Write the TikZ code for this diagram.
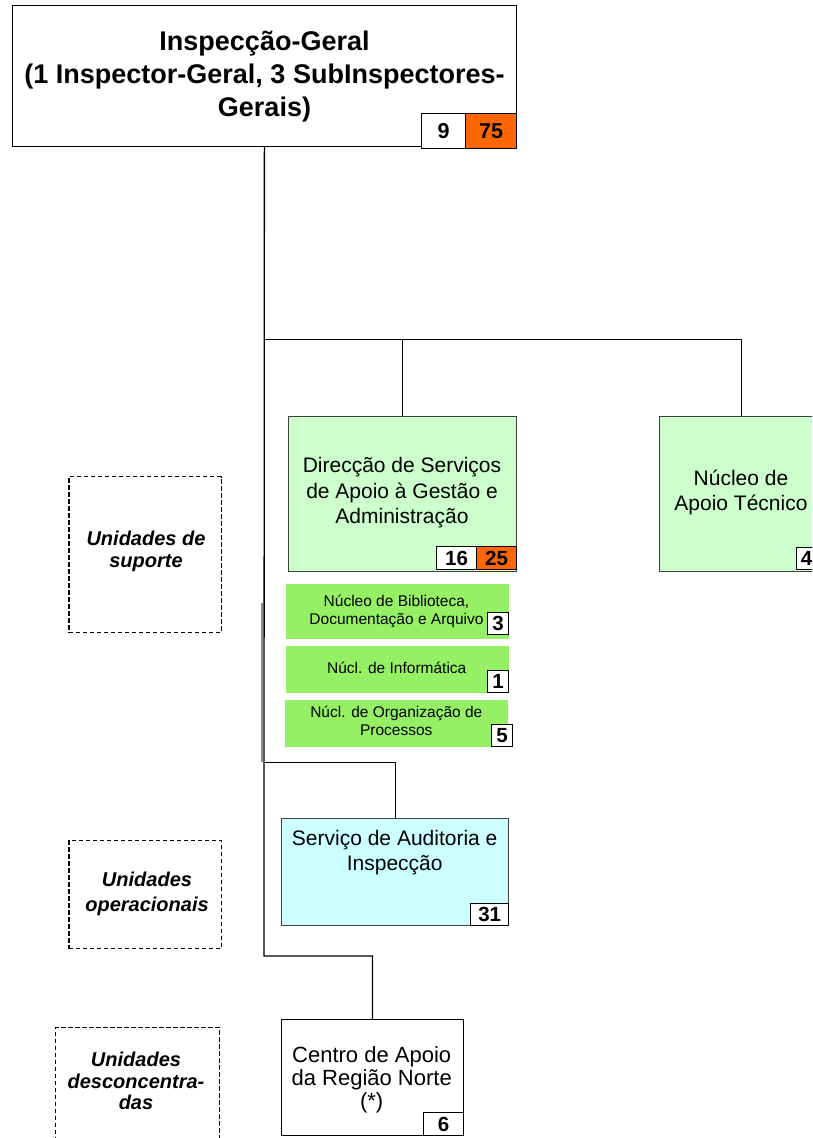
\documentclass[tikz,border=0pt]{standalone}
\usepackage{fontspec}
\setmainfont{Liberation Sans}
\definecolor{orangeb}{HTML}{FF6600}
\definecolor{palegreen}{HTML}{CCFFCC}
\definecolor{limegreen}{RGB}{150,240,100}
\definecolor{paleblue}{HTML}{CCFFFF}
\newcommand{\fsz}[2]{\fontsize{#1}{#2}\selectfont}

\begin{document}
\begin{tikzpicture}[x=1pt,y=-1pt,
  unit/.style={draw=black!75, line width=0.9pt, inner sep=0pt, anchor=north west},
  topunit/.style={draw=black, line width=1pt, fill=white, inner sep=0pt, anchor=north west},
  subunit/.style={fill=limegreen, draw=none, inner sep=0pt, anchor=north west},
  group/.style={draw=black, line width=1.2pt, dash pattern=on 4.5pt off 2.5pt, inner sep=0pt, anchor=north west},
  badge/.style={draw=black, line width=1pt, fill=white, inner sep=0pt, anchor=north west, font=\fsz{20.5}{20.5}\bfseries},
  hot/.style={badge, fill=orangeb},
  txt/.style={inner sep=0pt, align=center, execute at begin node=\strut, execute at end node=\strut},
  conn/.style={draw=black, line width=1pt},
]
% page
\fill[white] (0,0) rectangle (812,1138);
\clip (0,0) rectangle (812,1138);

% junctions on the spine
\coordinate (jtop) at (263.9,339);
\coordinate (jsai) at (263.9,762.3);
\coordinate (jcrn) at (263.9,956);
\coordinate (natin) at (741,415.7);
\coordinate (gs1) at (262.4,603);
\coordinate (gs2) at (262.4,762.3);

% top unit
\node[topunit, minimum width=504.2pt, minimum height=141pt] (ig) at (11.8,5) {};
\node[badge, minimum width=44pt, minimum height=35pt, font=\fsz{21.5}{21.5}\bfseries] (b9) at (421,113) {9};
\node[hot, minimum width=51pt, minimum height=35pt, font=\fsz{21.5}{21.5}\bfseries] (b75) at (465,113) {75};
\node[txt, font=\fsz{27}{33}\bfseries] (tig) at (264.5,78.4)
  {Inspecção-Geral\\(1 Inspector-Geral, 3 SubInspectores-\\Gerais)};

% support units
\node[unit, fill=palegreen, minimum width=228pt, minimum height=155pt] (dsaga) at (288,415.7) {};
\node[badge, minimum width=40pt, minimum height=23pt] (b16) at (436,546) {16};
\node[hot, minimum width=40pt, minimum height=23pt] (b25) at (476,546) {25};
\node[txt, font=\fsz{21}{25.5}] (tdsaga) at (402,494.4)
  {Direcção de Serviços\\de Apoio à Gestão e\\Administração};

\node[unit, fill=palegreen, minimum width=157pt, minimum height=155pt] (nat) at (659,415.7) {};
\node[badge, minimum width=20pt, minimum height=22pt] (b4) at (796,547) {4};
\node[txt, font=\fsz{21}{25}] (tnat) at (741,494.5) {Núcleo de\\Apoio Técnico};

\node[subunit, minimum width=223pt, minimum height=55pt] (nb1) at (286,584) {};
\node[badge, minimum width=21pt, minimum height=22pt] (b3) at (487,612) {3};
\node[txt, font=\fsz{15.5}{18.3}] (tnb1) at (396.5,612.2)
  {Núcleo de Biblioteca,\\Documentação e Arquivo};

\node[subunit, minimum width=223pt, minimum height=46.7pt] (nb2) at (286,646) {};
\node[badge, minimum width=21pt, minimum height=22pt] (b1) at (487,670) {1};
\node[txt, font=\fsz{15.5}{18.3}] (tnb2) at (396.7,669.6) {Núcl. de Informática};

\node[subunit, minimum width=223pt, minimum height=46.7pt] (nb3) at (285,700) {};
\node[badge, minimum width=21pt, minimum height=22pt] (b5) at (491,724) {5};
\node[txt, font=\fsz{15.5}{18.3}] (tnb3) at (396.3,723.8)
  {Núcl. de Organização de\\Processos};

% operational unit
\node[unit, fill=paleblue, minimum width=227.3pt, minimum height=106.7pt] (sai) at (281,818.3) {};
\node[badge, minimum width=38.3pt, minimum height=22pt] (b31) at (470,903) {31};
\node[txt, font=\fsz{21}{25}] (tsai) at (394.7,854.2) {Serviço de Auditoria e\\Inspecção};

% regional unit
\node[unit, draw=black, fill=white, minimum width=182pt, minimum height=116pt] (crn) at (281,1019) {};
\node[badge, minimum width=40pt, minimum height=23pt] (b6) at (423,1112) {6};
\node[txt, font=\fsz{22}{23.3}] (tcrn) at (371.7,1081.1) {Centro de Apoio\\da Região Norte\\(*)};

% group labels
\node[group, minimum width=152.4pt, minimum height=155.7pt] (gsup) at (68.3,476) {};
\node[txt, font=\fsz{20}{22}\bfseries\itshape] (tsup) at (146,552.6) {Unidades de\\suporte};
\node[group, minimum width=152.7pt, minimum height=108pt] (gope) at (68.3,840) {};
\node[txt, font=\fsz{20}{25}\bfseries\itshape] (tope) at (147,895.5) {Unidades\\operacionais};
\node[group, minimum width=164pt, minimum height=130pt] (gdes) at (55,1027) {};
\node[txt, font=\fsz{20}{21.5}\bfseries\itshape] (tdes) at (136,1084.2) {Unidades\\desconcentra-\\das};

% connectors
\draw[conn, line width=1.3pt] (ig.south) -- (jcrn) -| (crn.north);
\draw[black!45, line width=2pt] (gs1) -- (gs2);
\draw[conn] (jtop) -| (dsaga.north);
\draw[conn] (jtop) -| (natin);
\draw[conn] (jsai) -| (sai.north);
\end{tikzpicture}
\end{document}
